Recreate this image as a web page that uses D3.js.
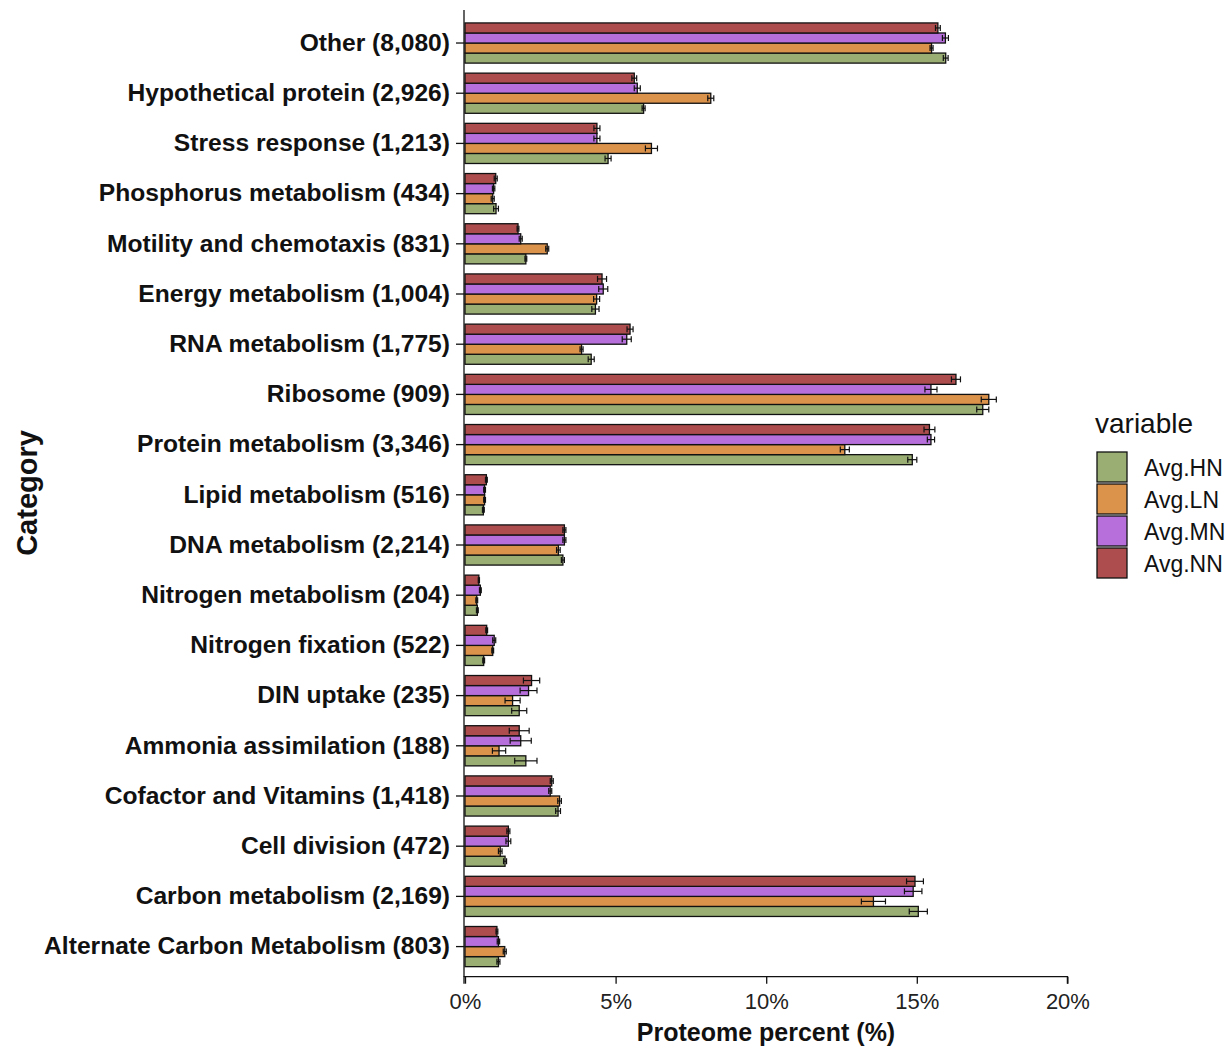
<!DOCTYPE html>
<html>
<head>
<meta charset="utf-8">
<script src="https://cdn.jsdelivr.net/npm/d3@7"></script>
<style>
  html, body { margin: 0; padding: 0; background: #fff; }
  svg { display: block; font-family: "Liberation Sans", Arial, sans-serif; }
</style>
</head>
<body>
<svg id="chart" width="1230" height="1049"></svg>
<script>
// Functional categories, top to bottom, with protein counts
const categories = [
  "Other (8,080)", "Hypothetical protein (2,926)", "Stress response (1,213)",
  "Phosphorus metabolism (434)", "Motility and chemotaxis (831)", "Energy metabolism (1,004)",
  "RNA metabolism (1,775)", "Ribosome (909)", "Protein metabolism (3,346)",
  "Lipid metabolism (516)", "DNA metabolism (2,214)", "Nitrogen metabolism (204)",
  "Nitrogen fixation (522)", "DIN uptake (235)", "Ammonia assimilation (188)",
  "Cofactor and Vitamins (1,418)", "Cell division (472)", "Carbon metabolism (2,169)",
  "Alternate Carbon Metabolism (803)"
];

const variables = ["Avg.HN", "Avg.LN", "Avg.MN", "Avg.NN"];

// Mean proteome percent per category
const avgHN = [15.96, 5.93, 4.75, 1.03, 2.02, 4.33, 4.19, 17.19, 14.85, 0.61, 3.25, 0.41, 0.62, 1.80, 2.02, 3.09, 1.33, 15.05, 1.11];
const avgLN = [15.49, 8.16, 6.19, 0.92, 2.73, 4.37, 3.87, 17.39, 12.61, 0.65, 3.10, 0.39, 0.92, 1.58, 1.13, 3.14, 1.17, 13.56, 1.32];
const avgMN = [15.95, 5.72, 4.38, 0.95, 1.85, 4.59, 5.37, 15.47, 15.47, 0.65, 3.30, 0.51, 0.97, 2.11, 1.85, 2.83, 1.44, 14.88, 1.11];
const avgNN = [15.70, 5.62, 4.38, 1.02, 1.76, 4.55, 5.48, 16.30, 15.42, 0.71, 3.30, 0.46, 0.72, 2.21, 1.80, 2.88, 1.44, 14.94, 1.06];

// Error bar half-widths (percent)
const errHN = [0.08, 0.05, 0.10, 0.08, 0.03, 0.12, 0.10, 0.20, 0.15, 0.03, 0.05, 0.03, 0.03, 0.25, 0.37, 0.08, 0.05, 0.30, 0.05];
const errLN = [0.05, 0.10, 0.20, 0.05, 0.05, 0.10, 0.05, 0.25, 0.15, 0.03, 0.06, 0.03, 0.03, 0.25, 0.22, 0.06, 0.06, 0.40, 0.05];
const errMN = [0.10, 0.10, 0.10, 0.04, 0.05, 0.15, 0.15, 0.20, 0.12, 0.03, 0.05, 0.03, 0.05, 0.28, 0.35, 0.05, 0.08, 0.29, 0.04];
const errNN = [0.08, 0.08, 0.10, 0.05, 0.03, 0.15, 0.10, 0.15, 0.18, 0.03, 0.05, 0.02, 0.03, 0.27, 0.33, 0.05, 0.05, 0.28, 0.03];

const xTicks = [0, 5, 10, 15, 20];
const colors = ["#9aae74", "#db924b", "#b66fdb", "#ad4d4e"];

const means = [avgHN, avgLN, avgMN, avgNN];
const errs = [errHN, errLN, errMN, errNN];

const rows = [];
categories.forEach((c, i) => {
  variables.forEach((v, j) => {
    rows.push({ category: c, variable: v, value: means[j][i], err: errs[j][i] });
  });
});

const svg = d3.select("#chart");

const x = d3.scaleLinear().domain([0, 20]).range([465, 1067.4]);
const y = d3.scaleBand().domain(categories).range([12.9, 976.7]).paddingInner(0).paddingOuter(0.1);
// Within each category: NN on top, HN at the bottom
const inner = d3.scaleBand().domain(variables.slice().reverse())
  .range([y.bandwidth() * 0.1, y.bandwidth() * 0.9]);
const color = d3.scaleOrdinal().domain(variables).range(colors);

// Bars
svg.append("g").selectAll("rect").data(rows).join("rect")
  .attr("x", x(0))
  .attr("y", d => y(d.category) + inner(d.variable))
  .attr("width", d => x(d.value) - x(0))
  .attr("height", inner.bandwidth())
  .attr("fill", d => color(d.variable))
  .attr("stroke", "#111")
  .attr("stroke-width", 1.3);

// Error bars
const eb = svg.append("g").attr("stroke", "#111").attr("stroke-width", 1.2);
rows.forEach(d => {
  const cy = y(d.category) + inner(d.variable) + inner.bandwidth() / 2;
  const x0 = x(d.value - d.err), x1 = x(d.value + d.err);
  eb.append("line").attr("x1", x0).attr("x2", x1).attr("y1", cy).attr("y2", cy);
  eb.append("line").attr("x1", x0).attr("x2", x0).attr("y1", cy - 3).attr("y2", cy + 3);
  eb.append("line").attr("x1", x1).attr("x2", x1).attr("y1", cy - 3).attr("y2", cy + 3);
});

// Y axis
const yAxis = svg.append("g").attr("transform", `translate(${x(0) - 1},0)`)
  .call(d3.axisLeft(y).tickSize(8).tickPadding(6));
yAxis.select(".domain").attr("d", `M0,10V${976.7}`).attr("stroke", "#111").attr("stroke-width", 1.3);
yAxis.selectAll(".tick line").attr("stroke", "#111").attr("stroke-width", 1.3);
yAxis.selectAll(".tick text")
  .attr("font-size", 24.6).attr("font-weight", "bold").attr("fill", "#111")
  .attr("font-family", "Liberation Sans, Arial, sans-serif");

// X axis
const xAxis = svg.append("g").attr("transform", `translate(0,${976.7})`)
  .call(d3.axisBottom(x).tickValues(xTicks).tickFormat(d => d + "%").tickSize(7).tickPadding(10));
xAxis.select(".domain").attr("d", `M${x(0) - 1},7V0H${x(20)}V7`).attr("stroke", "#111").attr("stroke-width", 1.3);
xAxis.selectAll(".tick line").attr("stroke", "#111").attr("stroke-width", 1.3);
xAxis.selectAll(".tick text")
  .attr("font-size", 22).attr("fill", "#222")
  .attr("font-family", "Liberation Sans, Arial, sans-serif");

// Axis titles
svg.append("text")
  .attr("x", 766).attr("y", 1041)
  .attr("text-anchor", "middle").attr("font-size", 25).attr("font-weight", "bold").attr("fill", "#111")
  .text("Proteome percent (%)");
svg.append("text")
  .attr("transform", "translate(37,493) rotate(-90)")
  .attr("text-anchor", "middle").attr("font-size", 29).attr("font-weight", "bold").attr("fill", "#111")
  .text("Category");

// Legend
const legend = svg.append("g").attr("transform", "translate(1097,0)");
legend.append("text").attr("x", -2).attr("y", 433).attr("font-size", 28).attr("fill", "#111").text("variable");
variables.forEach((v, i) => {
  const yy = 452 + i * 32;
  legend.append("rect").attr("x", 0).attr("y", yy).attr("width", 30).attr("height", 30)
    .attr("fill", color(v)).attr("stroke", "#111").attr("stroke-width", 1.3);
  legend.append("text").attr("x", 47).attr("y", yy + 24).attr("font-size", 23).attr("fill", "#111").text(v);
});
</script>
</body>
</html>
